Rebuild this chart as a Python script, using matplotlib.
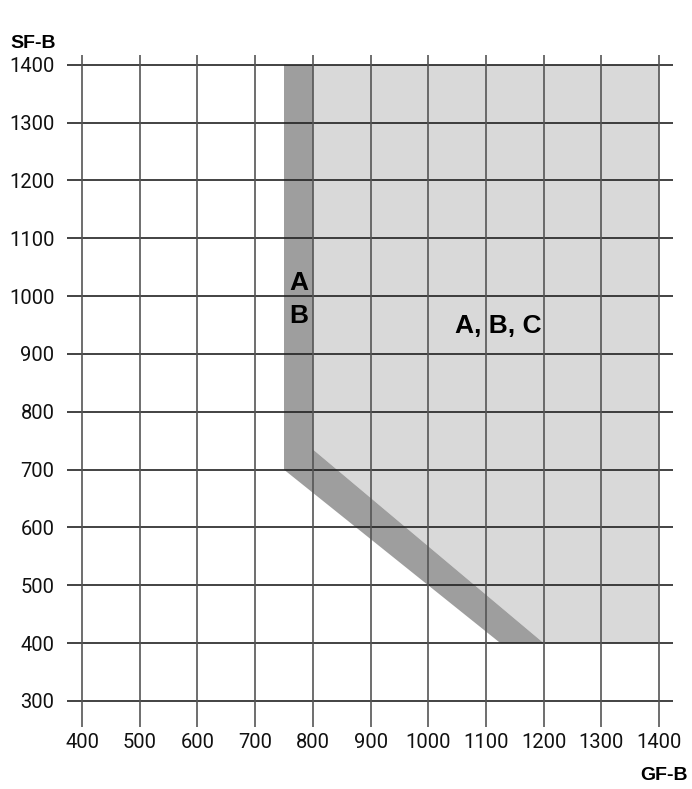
import matplotlib
matplotlib.use('Agg')
import matplotlib.pyplot as plt
from matplotlib.patches import Polygon

plt.rcParams['font.family'] = ['Roboto', 'DejaVu Sans']

# ticks
x_ticks = [400, 500, 600, 700, 800, 900, 1000, 1100, 1200, 1300, 1400]
y_ticks = [300, 400, 500, 600, 700, 800, 900, 1000, 1100, 1200, 1300, 1400]

# region A,B,C (light grey)
abc_x = [800, 1400, 1400, 1200, 800]
abc_y = [1400, 1400, 400, 400, 735]
# band A,B (dark grey)
ab_x = [750, 800, 800, 1200, 1125, 750]
ab_y = [1400, 1400, 735, 400, 400, 700]

W, H = 692, 789
fig = plt.figure(figsize=(W/100, H/100), dpi=100)
ax = fig.add_axes([67/W, (H-727)/H, 606/W, 672/H])
ax.set_xlim(374, 1424)
ax.set_ylim(255, 1417)
for s in ax.spines.values():
    s.set_visible(False)

ax.add_patch(Polygon(list(zip(abc_x, abc_y)), closed=True, fc='#d9d9d9', ec='none', zorder=1))
ax.add_patch(Polygon(list(zip(ab_x, ab_y)), closed=True, fc='#9e9e9e', ec='none', zorder=2))

for yv in y_ticks:
    ax.axhline(yv, color='#222222', lw=1.2, zorder=3)
for xv in x_ticks:
    ax.axvline(xv, color='#555555', lw=1.2, zorder=3)

ax.set_xticks(x_ticks)
ax.set_yticks(y_ticks)
ax.tick_params(length=0, labelsize=14.5, colors='#111111')
ax.tick_params(axis='x', pad=4)
ax.tick_params(axis='y', pad=9)

bold = ['Liberation Sans', 'DejaVu Sans']
ax.text(775, 1023, 'A', ha='center', va='center', fontsize=19, fontweight='bold', family=bold, zorder=4)
ax.text(775, 966, 'B', ha='center', va='center', fontsize=19, fontweight='bold', family=bold, zorder=4)
ax.text(1121, 948, 'A, B, C', ha='center', va='center', fontsize=19, fontweight='bold', family=bold, zorder=4)

fig.text(10/W, 1 - 43/H, 'SF-B', ha='left', va='center', fontsize=14, fontweight='bold', family=bold)
fig.text(688/W, 1 - 775/H, 'GF-B', ha='right', va='center', fontsize=14, fontweight='bold', family=bold)

fig.savefig('out.png', dpi=100)
